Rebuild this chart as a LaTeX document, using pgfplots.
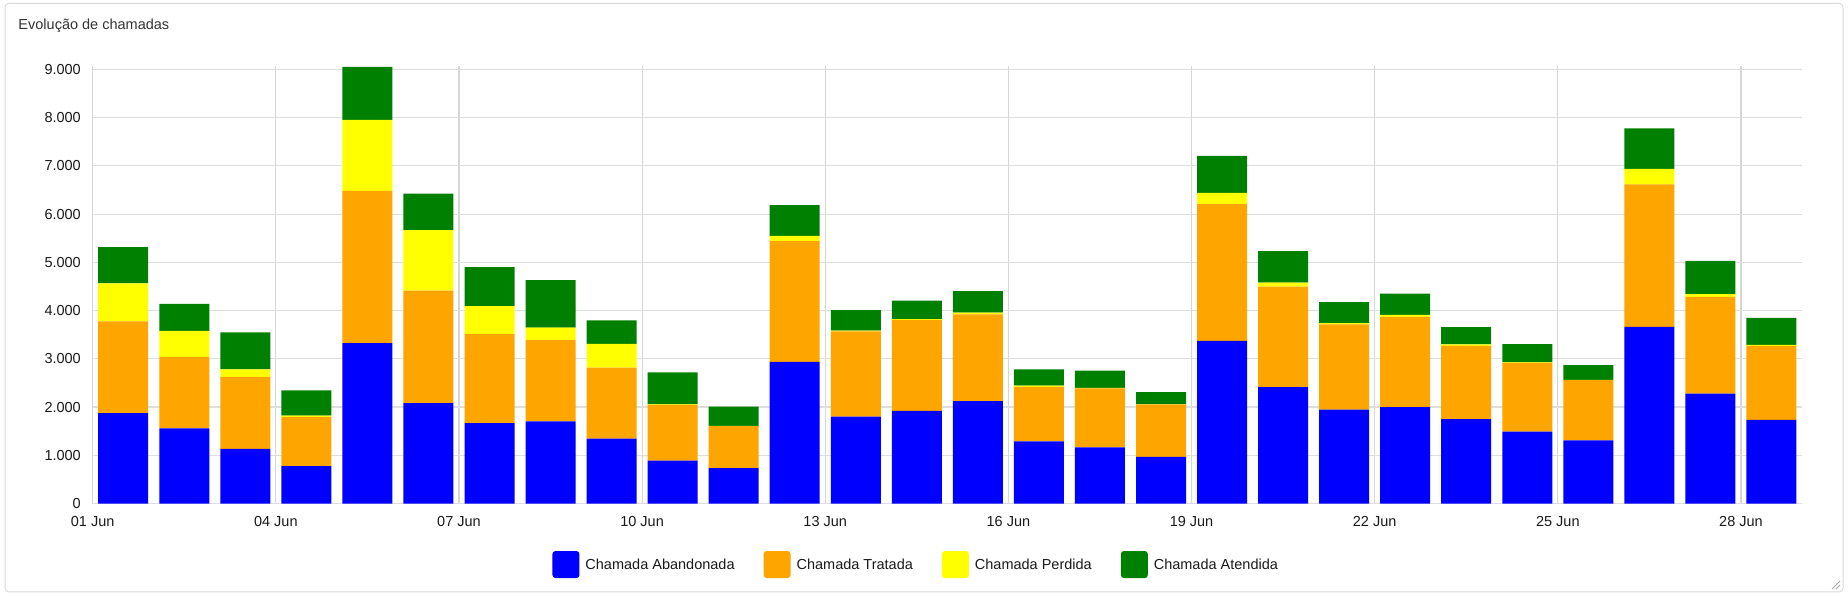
\documentclass[border=0pt]{standalone}
\usepackage{fontspec}
\setmainfont{Liberation Sans}
\usepackage{pgfplots}
\usepackage{pgfplotstable}
\pgfplotsset{compat=1.18}
\definecolor{txt}{HTML}{1A1A1A}
\definecolor{ttl}{HTML}{333333}
\definecolor{hgrid}{HTML}{DEDEDE}
\definecolor{vgrid}{HTML}{D6D6D6}
\definecolor{panel}{HTML}{DADADA}
\definecolor{cab}{HTML}{0000FF}
\definecolor{ctr}{HTML}{FFA500}
\definecolor{cpe}{HTML}{FFFF00}
\definecolor{cat}{HTML}{008000}
\newcommand\f{\fontsize{14.5bp}{17.4bp}\selectfont}
\pgfplotstableread{
x    ab    tr    pe    at
0.5  1875  1898  788   753
1.5  1557  1483  539   560
2.5  1132  1494  152   767
3.5  775   1015  30    526
4.5  3324  3158  1471  1099
5.5  2082  2333  1251  760
6.5  1668  1842  581   808
7.5  1705  1681  262   982
8.5  1347  1472  491   484
9.5  890   1157  10    659
10.5 731   871   8     396
11.5 2937  2501  111   635
12.5 1799  1771  16    422
13.5 1920  1885  16    387
14.5 2123  1795  41    443
15.5 1290  1125  30    333
16.5 1166  1219  10    362
17.5 966   1088  5     251
18.5 3372  2833  235   767
19.5 2413  2085  83    650
20.5 1948  1763  27    436
21.5 1999  1871  41    442
22.5 1750  1518  28    359
23.5 1492  1421  10    380
24.5 1311  1246  5     306
25.5 3662  2951  325   836
26.5 2279  2005  55    691
27.5 1733  1535  21    560
}\data
\pgfplotsset{mylegend/.style={legend image code/.code={\fill[##1, draw=none, rounded corners=3bp] (0bp,-13.5bp) rectangle (27bp,13.5bp);}}}
\begin{document}
\begin{tikzpicture}
\useasboundingbox (0,0) rectangle (1848bp,598bp);
\fill[white] (0,0) rectangle (1848bp,598bp);
\draw[panel, line width=1bp, rounded corners=4bp] (5bp,6bp) rectangle (1843bp,594.7bp);
\draw[gray!70, line width=0.9bp] (1832bp,9bp) -- (1840bp,17bp) (1836bp,9bp) -- (1840bp,13bp);
\node[anchor=base west, inner sep=0pt, font=\f, text=ttl] at (18.3bp,568.7bp) {Evolução de chamadas};
\begin{axis}[
  at={(92.7bp,94.5bp)}, anchor=south west,
  scale only axis, width=1709.3bp, height=437.3bp,
  xmin=0, xmax=28, ymin=0, ymax=9065,
  ybar stacked, bar width=50bp,
  axis line style={draw=none},
  major tick length=0pt,
  xtick={0,3,...,27},
  xticklabels={01 Jun,04 Jun,07 Jun,10 Jun,13 Jun,16 Jun,19 Jun,22 Jun,25 Jun,28 Jun},
  ytick={0,1000,...,9000},
  scaled y ticks=false,
  /pgf/number format/.cd, assume math mode=true, 1000 sep={.}, /pgfplots/.cd,
  xmajorgrids, ymajorgrids,
  x grid style={vgrid, line width=1.1bp},
  y grid style={hgrid, line width=1.1bp},
  tick label style={font=\f, text=txt, inner sep=0pt},
  yticklabel style={anchor=east, xshift=-11.7bp},
  xticklabel style={anchor=north, yshift=-13bp},
  legend columns=4,
  legend style={at={(axis description cs:0.4812,-0.1396)}, anchor=center,
    draw=none, fill=none, inner sep=0pt, outer sep=0pt, font=\f, text=txt,
    nodes={inner sep=0pt},
    /tikz/every odd column/.append style={column sep=6bp},
    /tikz/every even column/.append style={column sep=29bp}},
]
\addplot[fill=cab, draw=none, mylegend] table[x=x, y=ab] {\data};
\addlegendentry{Chamada Abandonada}
\addplot[fill=ctr, draw=none, mylegend] table[x=x, y=tr] {\data};
\addlegendentry{Chamada Tratada}
\addplot[fill=cpe, draw=none, mylegend] table[x=x, y=pe] {\data};
\addlegendentry{Chamada Perdida}
\addplot[fill=cat, draw=none, mylegend] table[x=x, y=at] {\data};
\addlegendentry{Chamada Atendida}
\end{axis}
\end{tikzpicture}
\end{document}
